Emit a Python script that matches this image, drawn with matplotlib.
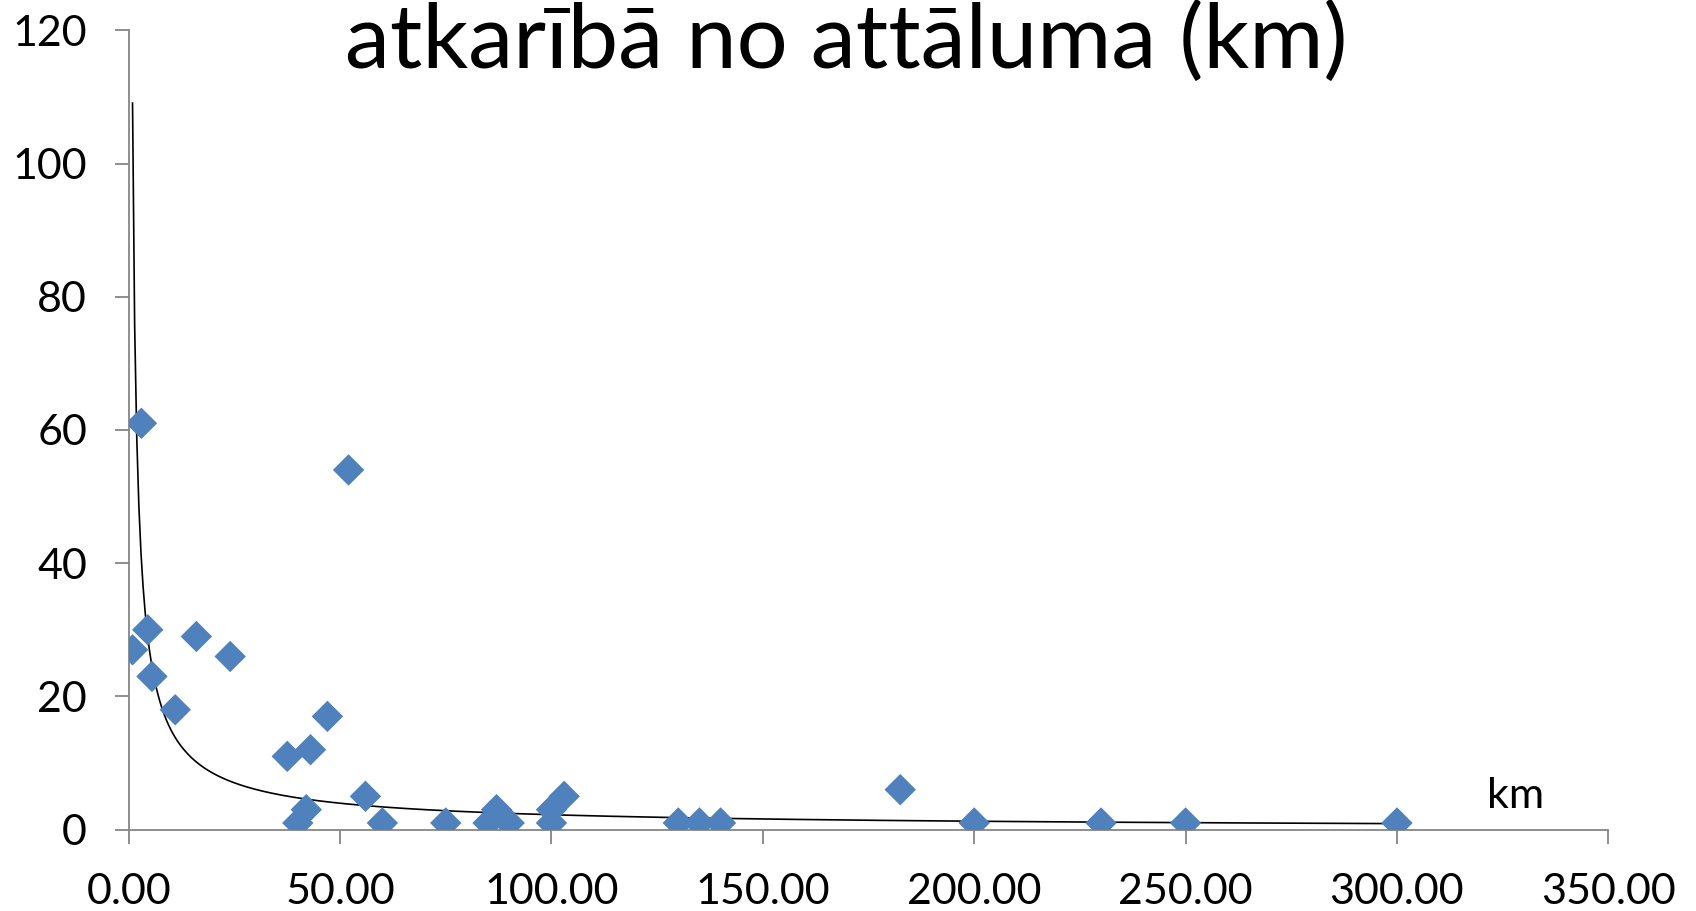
import numpy as np
import matplotlib
matplotlib.use("Agg")
import matplotlib.pyplot as plt

# Data
distance_km = [0.9, 3, 4.5, 5.5, 11, 16, 24, 37.5, 40, 42, 43, 47, 52, 56, 60,
               75, 85, 87, 90, 100, 100, 103, 130, 135, 140, 182.5, 200, 230, 250, 300]
values = [27, 61, 30, 23, 18, 29, 26, 11, 1, 3, 12, 17, 54, 5, 1,
          1, 1, 3, 1, 1, 3, 5, 1, 1, 1, 6, 1, 1, 1, 1]

# Power trend line y = a * x^b (coefficients)
trend_a = 100.0
trend_b = -0.825

title_text = "atkarībā no attāluma (km)"
x_axis_title = "km"
x_ticks = [0, 50, 100, 150, 200, 250, 300, 350]
y_ticks = [0, 20, 40, 60, 80, 100, 120]

plt.rcParams['font.family'] = ['Lato', 'DejaVu Sans']

fig = plt.figure(figsize=(16.96, 9.11), dpi=100)
ax = fig.add_axes([0.0759, 0.0893, 0.9483 - 0.0759, 0.9667 - 0.0893])

xt = np.linspace(min(distance_km), max(distance_km), 600)
ax.plot(xt, trend_a * xt ** trend_b, color='black', lw=1.2, zorder=2)
ax.scatter(distance_km, values, marker='D', s=16**2, color='#4F81BD',
           edgecolors='none', zorder=3)

ax.set_xlim(0, 350)
ax.set_ylim(0, 120)
ax.set_xticks(x_ticks)
ax.set_xticklabels([f"{v:.2f}" for v in x_ticks])
ax.set_yticks(y_ticks)
ax.set_yticklabels([str(v) for v in y_ticks])

for s in ['top', 'right']:
    ax.spines[s].set_visible(False)
for s in ['left', 'bottom']:
    ax.spines[s].set_color('#868686')
    ax.spines[s].set_linewidth(1.3)
ax.tick_params(axis='both', direction='out', length=10, width=1.3,
               color='#868686', labelsize=31, labelcolor='black')
ax.tick_params(axis='y', pad=20)
ax.tick_params(axis='x', pad=21)

ax.text(328, 5, x_axis_title, fontsize=31, ha='center', va='center')

fig.text(0.499, 0.925, title_text, fontsize=65, ha='center', va='baseline')

fig.savefig("out.png", dpi=100)
